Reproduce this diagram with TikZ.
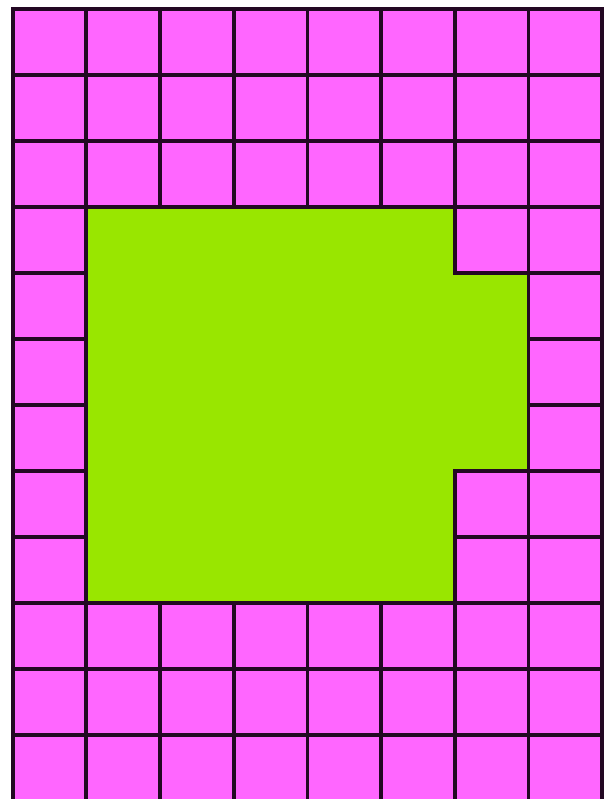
\documentclass[tikz,border=0pt]{standalone}
\usepackage{tikz}
\usetikzlibrary{calc}
\definecolor{cellpink}{RGB}{255,102,255}
\definecolor{blockgreen}{RGB}{153,230,0}
\definecolor{gridline}{RGB}{35,8,35}
\begin{document}
\begin{tikzpicture}[x=3.683cm,y=3.30cm,cell/.style={fill=cellpink,draw=gridline,line width=1.9mm}]
\useasboundingbox (-0.1724,0.1318) rectangle (8.0818,-11.97);
\fill[blockgreen] (1,-3)--(6,-3)--(6,-4)--(7,-4)--(7,-7)--(6,-7)--(6,-9)--(1,-9)--cycle;
\foreach \c in {0,...,7}
  \foreach \r in {0,...,11}
  {\pgfmathtruncatemacro\ingreen{(\c>0 && \c<6 && \r>2 && \r<9) || (\c==6 && \r>3 && \r<7)}
   \ifnum\ingreen=0 \draw[cell] (\c,-\r) rectangle ++(1,-1);\fi}
\end{tikzpicture}
\end{document}
